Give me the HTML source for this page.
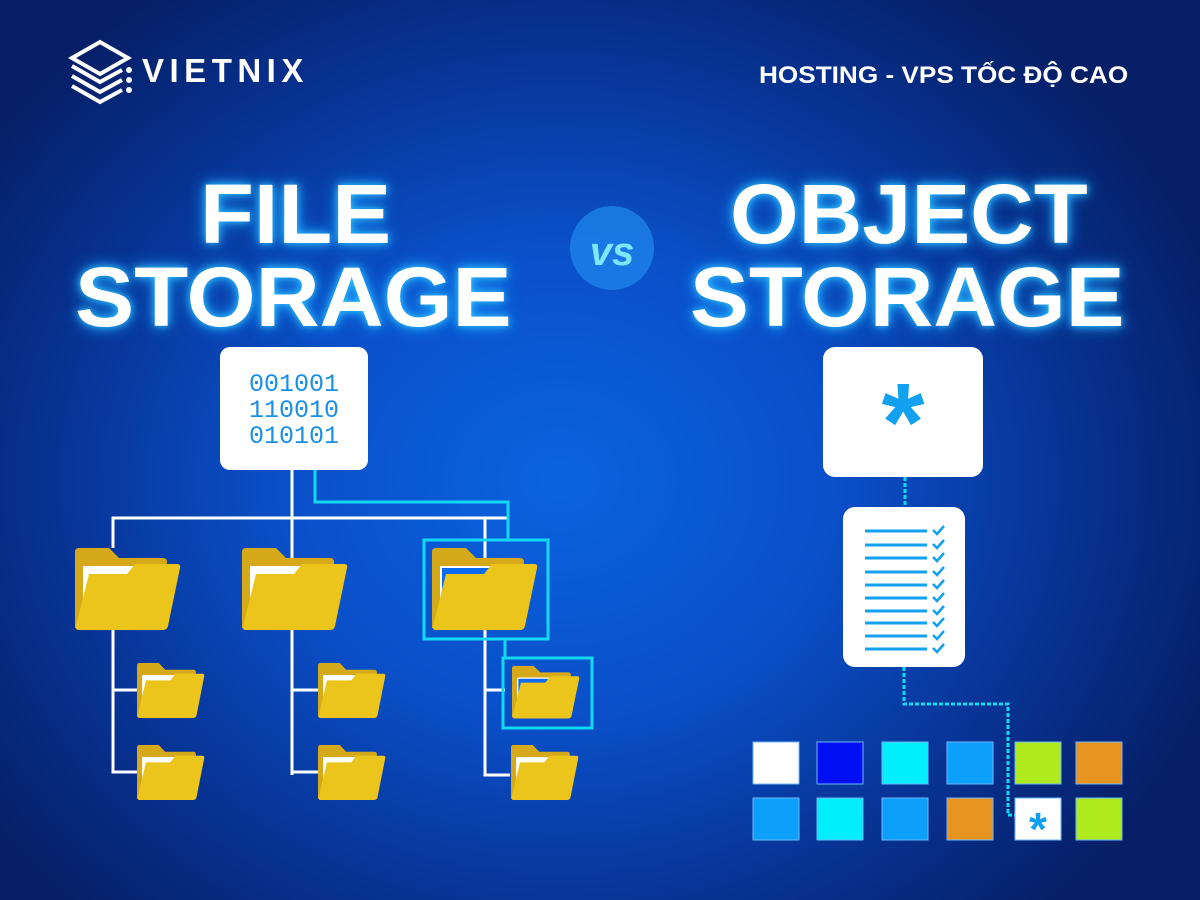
<!DOCTYPE html>
<html><head><meta charset="utf-8"><style>
body{margin:0;width:1200px;height:900px;overflow:hidden;font-family:"Liberation Sans",sans-serif}
.bg{position:absolute;left:0;top:0;width:1200px;height:900px;background:radial-gradient(ellipse 700px 600px at 560px 480px,#0a63e0 0%,#0a4fc8 40%,#07318f 75%,#061f66 100%)}
.t{position:absolute;color:#fff;font-weight:bold;white-space:nowrap;text-shadow:0 0 8px #33c8ff,0 0 16px #1aa0ff;transform-origin:left top}
</style></head><body>
<div class="bg"></div>
<svg width="1200" height="900" style="position:absolute;left:0;top:0">
<g stroke="#fff" stroke-width="4" fill="none">
<path d="M72 58 L100 42 L128 58 L100 74 Z"/>
<path d="M72 66 L100 82 L122 70"/><path d="M72 76 L100 92 L122 80"/><path d="M72 86 L100 102 L122 90"/>
</g>
<circle cx="129" cy="70" r="3" fill="#fff"/><circle cx="129" cy="80" r="3" fill="#fff"/><circle cx="129" cy="90" r="3" fill="#fff"/>
<circle cx="612" cy="248" r="42" fill="#1c7fe8" opacity="0.85"/>
<text x="612" y="265" font-family="Liberation Sans" font-style="italic" font-weight="bold" font-size="40" fill="#7fe6ff" text-anchor="middle">vs</text>
<g stroke="#fff" stroke-width="3" fill="none">
<path d="M292 470 V775"/><path d="M113 548 V518 H508"/><path d="M113 630 V772 H137 M113 690 H137"/>
<path d="M292 690 H318 M292 772 H318"/>
<path d="M485 518 V775 H510 M485 690 H505"/>
</g>
<g stroke="#13d8f2" stroke-width="3" fill="none">
<path d="M315 470 V502 H508 V540"/><rect x="424" y="540" width="124" height="99"/>
<path d="M505 639 V658"/><rect x="503" y="658" width="89" height="70"/>
</g>
<rect x="220" y="347" width="148" height="123" rx="10" fill="#fff"/>
<g font-family="Liberation Mono" font-size="25" fill="#1a8fe8" text-anchor="middle">
<text x="294" y="391">001001</text><text x="294" y="417">110010</text><text x="294" y="443">010101</text></g>
<defs>
<g id="f">
<path d="M0 4 Q0 0 4 0 H34 L44 10 H88 Q92 10 92 14 V80 H0 Z" fill="#d6a91a"/>
<rect x="8" y="18" width="80" height="50" fill="#fff"/>
<path d="M14 26 H52 L60 16 H102 Q106 16 105 20 L93 78 Q92 82 88 82 H4 Q0 82 1 78 Z" fill="#ecc51c"/>
</g>
<g id="fb">
<path d="M0 4 Q0 0 4 0 H34 L44 10 H88 Q92 10 92 14 V80 H0 Z" fill="#d6a91a"/>
<rect x="8" y="18" width="80" height="50" fill="#fff"/><rect x="10" y="20" width="76" height="46" fill="#0a6bf0"/>
<path d="M14 26 H52 L60 16 H102 Q106 16 105 20 L93 78 Q92 82 88 82 H4 Q0 82 1 78 Z" fill="#ecc51c"/>
</g>
</defs>
<use href="#f" transform="translate(75,548)"/>
<use href="#f" transform="translate(242,548)"/>
<use href="#fb" transform="translate(432,548)"/>
<use href="#f" transform="translate(137,663) scale(0.64,0.67)"/>
<use href="#f" transform="translate(137,745) scale(0.64,0.67)"/>
<use href="#f" transform="translate(318,663) scale(0.64,0.67)"/>
<use href="#f" transform="translate(318,745) scale(0.64,0.67)"/>
<use href="#fb" transform="translate(512,666) scale(0.64,0.64)"/>
<use href="#f" transform="translate(511,745) scale(0.64,0.67)"/>
<rect x="823" y="347" width="160" height="130" rx="12" fill="#fff"/>
<text x="903" y="460" font-family="Liberation Sans" font-weight="bold" font-size="110" fill="#12a0f0" text-anchor="middle">*</text>
<g stroke="#13d8f2" stroke-width="3" fill="none" stroke-dasharray="4 2">
<path d="M905 477 V507"/><path d="M904 667 V704 H1008 V815 H1015"/></g>
<rect x="843" y="507" width="122" height="160" rx="12" fill="#fff"/>
<g stroke="#12a0f0" stroke-width="3">
<path d="M865 531 H927 M865 545 H927 M865 558 H927 M865 572 H927 M865 585 H927 M865 598 H927 M865 611 H927 M865 623 H927 M865 636 H927 M865 649 H927"/></g>
<g stroke="#12a0f0" stroke-width="2.5" fill="none">
<path d="M933 530 l4 4 l7 -8 M933 544 l4 4 l7 -8 M933 557 l4 4 l7 -8 M933 571 l4 4 l7 -8 M933 584 l4 4 l7 -8 M933 597 l4 4 l7 -8 M933 610 l4 4 l7 -8 M933 622 l4 4 l7 -8 M933 635 l4 4 l7 -8 M933 648 l4 4 l7 -8"/></g>
<g stroke="#6fb6ff" stroke-width="1">
<rect x="753" y="742" width="46" height="42" fill="#fff"/>
<rect x="817" y="742" width="46" height="42" fill="#0010f5"/>
<rect x="882" y="742" width="46" height="42" fill="#00eefc"/>
<rect x="947" y="742" width="46" height="42" fill="#0da0fb"/>
<rect x="1015" y="742" width="46" height="42" fill="#aeea1e"/>
<rect x="1076" y="742" width="46" height="42" fill="#e89420"/>
<rect x="753" y="798" width="46" height="42" fill="#0da0fb"/>
<rect x="817" y="798" width="46" height="42" fill="#00eefc"/>
<rect x="882" y="798" width="46" height="42" fill="#0da0fb"/>
<rect x="947" y="798" width="46" height="42" fill="#e89420"/>
<rect x="1015" y="798" width="46" height="42" fill="#fff"/>
<rect x="1076" y="798" width="46" height="42" fill="#aeea1e"/>
</g>
<text x="1038" y="845" font-family="Liberation Sans" font-weight="bold" font-size="46" fill="#12a0f0" text-anchor="middle">*</text>
</svg>
<div class="t" style="left:142px;top:52px;font-size:33px;text-shadow:none;letter-spacing:5.5px">VIETNIX</div>
<div class="t" style="left:759px;top:62px;font-size:24px;text-shadow:none;transform:scaleX(1.09)">HOSTING - VPS TỐC ĐỘ CAO</div>
<div class="t" style="left:200px;top:166px;font-size:84px;transform:scaleX(1.05)">FILE</div>
<div class="t" style="left:75px;top:249px;font-size:84px;transform:scaleX(1.055)">STORAGE</div>
<div class="t" style="left:730px;top:166px;font-size:84px;transform:scaleX(1.05)">OBJECT</div>
<div class="t" style="left:690px;top:249px;font-size:84px;transform:scaleX(1.05)">STORAGE</div>
</body></html>
